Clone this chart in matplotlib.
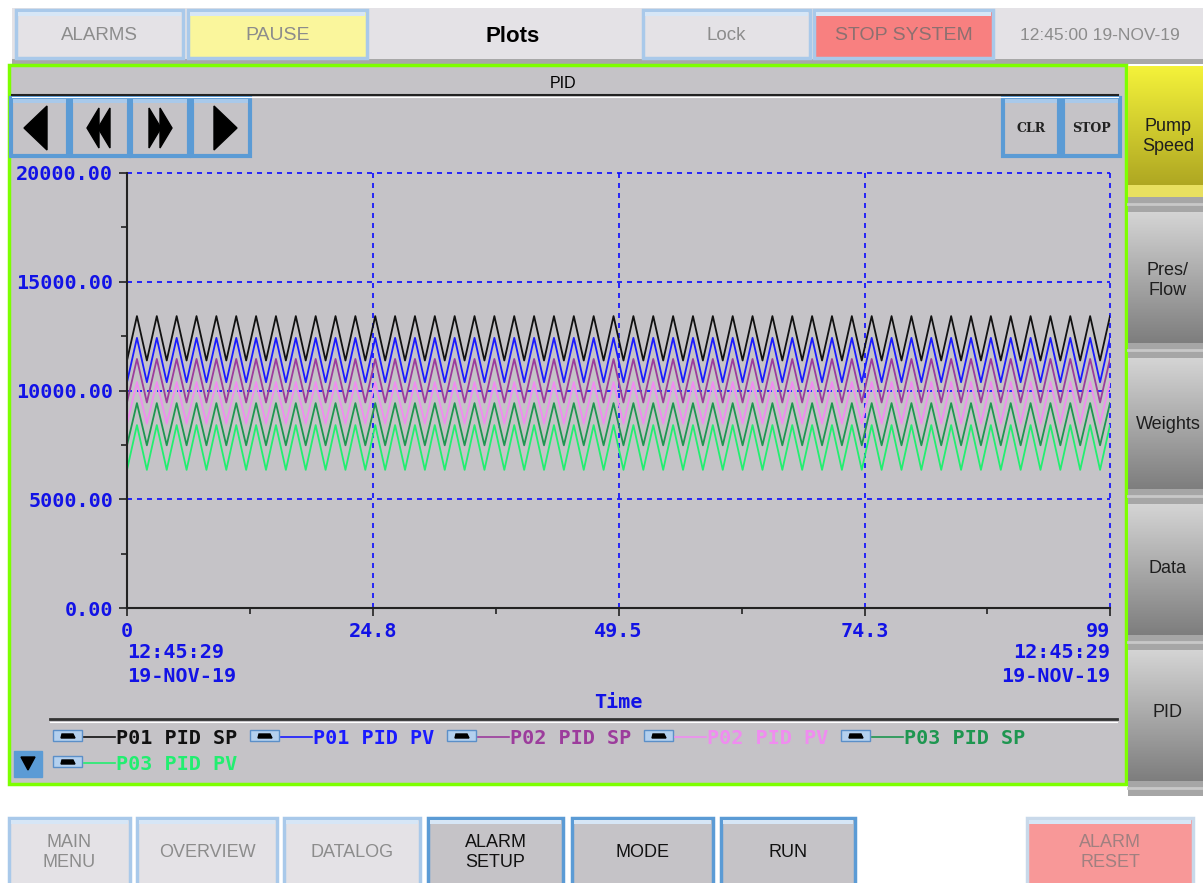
import numpy as np
import matplotlib.pyplot as plt
from matplotlib.patches import Rectangle, Polygon
from matplotlib.colors import LinearSegmentedColormap

time = np.arange(0, 100)
series = ['P01 PID SP', 'P01 PID PV', 'P02 PID SP', 'P02 PID PV', 'P03 PID SP', 'P03 PID PV']
colors = ['#111111', '#1a1aff', '#9c3c9c', '#f08cf0', '#1e9650', '#22ee70']
peaks = [13420, 12420, 11450, 10390, 9420, 8410]
troughs = [11380, 10380, 9450, 8480, 7480, 6350]
y_ticks = [0, 5000, 10000, 15000, 20000]
y_tick_labels = ['0.00', '5000.00', '10000.00', '15000.00', '20000.00']
x_ticks = [0, 24.8, 49.5, 74.3, 99]
x_tick_labels = ['0', '24.8', '49.5', '74.3', '99']
start_stamp = ['12:45:29', '19-NOV-19']
end_stamp = ['12:45:29', '19-NOV-19']

top_buttons = ['ALARMS', 'PAUSE', 'Lock', 'STOP SYSTEM']
side_buttons = ['Pump\nSpeed', 'Pres/\nFlow', 'Weights', 'Data', 'PID']
bottom_buttons = ['MAIN\nMENU', 'OVERVIEW', 'DATALOG', 'ALARM\nSETUP', 'MODE', 'RUN', 'ALARM\nRESET']

W, H = 1203, 883
SANS = ['Liberation Sans', 'DejaVu Sans']
MONO = ['DejaVu Sans Mono']
BLUE_TXT = '#1212e6'
PANEL = '#c5c3c7'
FS = 14.5

fig = plt.figure(figsize=(W / 100, H / 100), dpi=100)
fig.patch.set_facecolor('white')
bg = fig.add_axes([0, 0, 1, 1])
bg.set_xlim(0, W)
bg.set_ylim(H, 0)
bg.axis('off')


def box(x0, y0, x1, y1, fc, ec='none', lw=0, z=1):
    bg.add_patch(Rectangle((x0, y0), x1 - x0, y1 - y0, facecolor=fc, edgecolor=ec, linewidth=lw, zorder=z))


def button(x0, y0, x1, y1, label, fc, tc, ec='#a9c9ea', size=13, weight='normal'):
    box(x0, y0, x1, y1, fc, ec, 2.5, 2)
    box(x0 + 2, y0 + 2, x1 - 2, y0 + 6, '#d6e6f6', z=3)
    bg.text((x0 + x1) / 2, (y0 + y1) / 2 + 1, label, ha='center', va='center', color=tc,
            fontsize=size, family=SANS, weight=weight, linespacing=1.25, zorder=4)


def gradient(x0, y0, x1, y1, c_top, c_bot):
    cmap = LinearSegmentedColormap.from_list('g', [c_top, c_bot])
    g = np.linspace(0, 1, 64).reshape(-1, 1)
    bg.imshow(g, extent=(x0, x1, y1, y0), aspect='auto', cmap=cmap, zorder=2, origin='upper')


# ---- top bar ----
box(12, 8, W, 60, '#e4e2e6')
box(12, 59, W, 64, '#a8a8a8')
button(16, 10, 183, 58, top_buttons[0], '#e4e2e6', '#8c8c8c', size=13.5)
button(188, 10, 367, 58, top_buttons[1], '#faf69c', '#8c8c8c', size=14)
bg.text(513, 36, 'Plots', ha='center', va='center', fontsize=16, weight='bold', family=SANS, zorder=4)
button(643, 10, 810, 58, top_buttons[2], '#e4e2e6', '#8c8c8c', size=13.5)
button(814, 10, 993, 58, top_buttons[3], '#f88080', '#8c7070', size=14)
bg.text(1100, 36, '12:45:00 19-NOV-19', ha='center', va='center', fontsize=12.5, family=SANS,
        color='#8c8c8c', zorder=4)

# ---- main panel ----
box(9, 65, 1126, 784, PANEL, '#7dff00', 2.5, 1)
bg.text(563, 84, 'PID', ha='center', va='center', fontsize=11.5, family=SANS, zorder=4)
bg.plot([12, 1118], [95, 95], color='#222222', lw=1.5, zorder=3)
bg.plot([12, 1118], [97, 97], color='white', lw=0.8, zorder=3)

# nav buttons
nav_x = [(11, 68), (71, 129), (131, 189), (192, 250)]
for x0, x1 in nav_x:
    box(x0, 98, x1, 156, '#c5c3c7', '#5b9bd5', 3, 2)
    box(x0 + 2, 99, x1 - 2, 103, '#a9c9ea', z=3)
cx, cy = 40, 128
bg.add_patch(Polygon([(cx - 16, cy), (cx + 7, cy - 22), (cx + 7, cy + 22)], color='black', zorder=4))
cx = 100
for dx in (-13, -2):
    bg.add_patch(Polygon([(cx + dx, cy), (cx + dx + 12, cy - 20), (cx + dx + 12, cy + 20)], color='black', zorder=4))
cx = 160
for dx in (-11, 0):
    bg.add_patch(Polygon([(cx + dx + 12, cy), (cx + dx, cy - 20), (cx + dx, cy + 20)], color='black', zorder=4))
cx = 221
bg.add_patch(Polygon([(cx + 16, cy), (cx - 7, cy - 22), (cx - 7, cy + 22)], color='black', zorder=4))

for (x0, x1), lab in zip([(1003, 1059), (1063, 1120)], ['CLR', 'STOP']):
    box(x0, 98, x1, 156, '#c5c3c7', '#5b9bd5', 3, 2)
    box(x0 + 2, 99, x1 - 2, 103, '#a9c9ea', z=3)
    bg.text((x0 + x1) / 2, 128, lab, ha='center', va='center', fontsize=9, family=['DejaVu Serif'],
            weight='bold', color='#222222', zorder=4)

# ---- chart ----
ax = fig.add_axes([127 / W, 1 - 608 / H, 983 / W, 435 / H])
ax.patch.set_alpha(0)
for i, name in enumerate(series):
    vals = np.where(time % 2 == 1, peaks[i], troughs[i])
    ax.plot(time, vals, color=colors[i], lw=1.3, label=name)
ax.set_xlim(0, 99)
ax.set_ylim(0, 20000)
ax.set_xticks(x_ticks)
ax.set_xticklabels(x_tick_labels)
ax.set_xticks([12.4, 37.15, 61.9, 86.65], minor=True)
ax.set_yticks(y_ticks)
ax.set_yticklabels(y_tick_labels)
ax.set_yticks([2500, 7500, 12500, 17500], minor=True)
ax.tick_params(which='major', direction='out', length=6, width=1.2, color='#222222', pad=4,
               labelcolor=BLUE_TXT, labelsize=FS)
ax.tick_params(which='minor', direction='out', length=4, width=1.2, color='#222222')
for lab in ax.get_xticklabels() + ax.get_yticklabels():
    lab.set_family(MONO)
    lab.set_weight('bold')
ax.get_xticklabels()[-1].set_horizontalalignment('right')
ax.grid(True, which='major', color='#0a0aff', ls=(0, (3, 3)), lw=1.2)
for gl in ax.get_xgridlines() + ax.get_ygridlines():
    gl.set_clip_on(False)
for s in ['top', 'right']:
    ax.spines[s].set_visible(False)
for s in ['left', 'bottom']:
    ax.spines[s].set_color('#222222')
    ax.spines[s].set_linewidth(1.5)
    ax.spines[s].set_zorder(3)

for i, (a, b) in enumerate(zip(start_stamp, end_stamp)):
    yy = 653 + i * 23
    bg.text(127, yy, a, ha='left', va='center', fontsize=FS, family=MONO, weight='bold', color=BLUE_TXT, zorder=4)
    bg.text(1110, yy, b, ha='right', va='center', fontsize=FS, family=MONO, weight='bold', color=BLUE_TXT, zorder=4)
bg.text(618, 703, 'Time', ha='center', va='center', fontsize=FS, family=MONO, weight='bold', color=BLUE_TXT, zorder=4)

# ---- legend ----
bg.plot([50, 1117], [719, 719], color='#333333', lw=2, zorder=3)
bg.plot([50, 1117], [722, 722], color='white', lw=0.8, zorder=3)
for i, name in enumerate(series):
    row = 0 if i < 5 else 1
    col = i if i < 5 else 0
    x0 = 53 + col * 197
    y = 737 + row * 26
    box(x0, y - 7, x0 + 29, y + 4, '#b4d0ee', '#5b8fc8', 1, 3)
    bg.add_patch(Polygon([(x0 + 9, y - 3), (x0 + 20, y - 3), (x0 + 22, y + 1), (x0 + 8, y + 1)], color='black', zorder=4))
    bg.plot([x0 + 31, x0 + 62], [y, y], color=colors[i], lw=1.2, zorder=4)
    bg.text(x0 + 63, y + 1, name, ha='left', va='center', fontsize=FS, family=MONO, weight='bold',
            color=colors[i], zorder=4)

box(14, 751, 42, 777, '#5b9bd5', '#5b9bd5', 1, 3)
bg.add_patch(Polygon([(21, 757), (35, 757), (28, 770)], color='black', zorder=4))

# ---- side buttons ----
for i, lab in enumerate(side_buttons):
    y0 = 66 + i * 146
    y1 = y0 + 131
    if i == 0:
        gradient(1128, y0, W, y1, '#f4f23a', '#a8a020')
        box(1128, y1 - 12, W, y1, '#e8e060', z=3)
    else:
        gradient(1128, y0, W, y1, '#d4d4d4', '#7e7e7e')
    box(1128, y1, W, y1 + 15, '#a6a6a6', z=2)
    bg.plot([1128, W], [y1 + 7, y1 + 7], color='#c8c8c8', lw=2, zorder=3)
    off = [5, 3, 1, -1, -3][i]
    bg.text(1168, (y0 + y1) / 2 + off, lab, ha='center', va='center', fontsize=13, family=SANS,
            color='#1e1e1e', linespacing=1.3, zorder=4)

# ---- bottom buttons ----
bot_x = [(9, 130), (137, 277), (284, 420), (428, 563), (572, 713), (721, 855), (1027, 1193)]
bot_fc = ['#e4e2e6', '#e4e2e6', '#e4e2e6', '#c5c3c7', '#c5c3c7', '#c5c3c7', '#f89898']
bot_tc = ['#8c8c8c', '#8c8c8c', '#8c8c8c', '#111111', '#111111', '#111111', '#a08080']
bot_ec = ['#a9c9ea', '#a9c9ea', '#a9c9ea', '#5b9bd5', '#5b9bd5', '#5b9bd5', '#c9d9ea']
for (x0, x1), lab, fc, tc, ec in zip(bot_x, bottom_buttons, bot_fc, bot_tc, bot_ec):
    button(x0, 818, x1, 885, lab, fc, tc, ec=ec, size=13)

bg.set_xlim(0, W)
bg.set_ylim(H, 0)
fig.savefig('out.png', dpi=100)
